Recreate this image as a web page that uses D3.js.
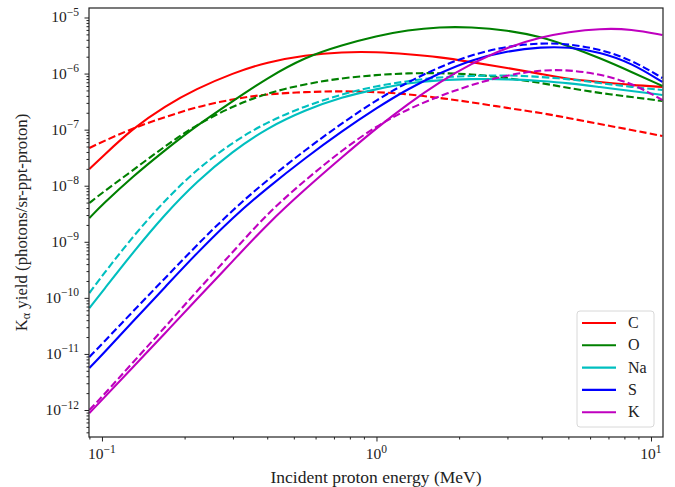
<!DOCTYPE html>
<html>
<head>
<meta charset="utf-8">
<script src="https://cdn.jsdelivr.net/npm/d3@7"></script>
<style>
  body { margin: 0; background: #fff; }
  text { font-family: "Liberation Serif", "DejaVu Serif", serif; fill: #222; }
</style>
</head>
<body>
<svg id="chart" width="675" height="487"></svg>
<script>
// Incident proton energies (MeV) at which the yields are tabulated
const energies = [0.09, 0.1, 0.13, 0.17, 0.22, 0.3, 0.4, 0.55, 0.75, 1, 1.3, 1.7, 2.2, 3, 4, 5, 6.5, 8.5, 11];

// Elements, line colours
const elements = ["C", "O", "Na", "S", "K"];
const colors = ["#ff0000", "#008000", "#00bfbf", "#0000ff", "#bf00bf"];

// K-alpha yields (photons/sr-ppt-proton), solid and dashed models
const cSolid  = [1.99e-8, 3.25e-8, 1.07e-7, 2.64e-7, 5.31e-7, 1.02e-6, 1.61e-6, 2.14e-6, 2.43e-6, 2.43e-6, 2.23e-6, 1.97e-6, 1.61e-6, 1.26e-6, 9.8e-7, 8.0e-7, 7.08e-7, 6.25e-7, 5.76e-7];
const cDashed = [4.71e-8, 6.03e-8, 1.07e-7, 1.68e-7, 2.53e-7, 3.52e-7, 4.32e-7, 4.69e-7, 4.89e-7, 4.69e-7, 4.32e-7, 3.67e-7, 3.11e-7, 2.43e-7, 1.98e-7, 1.61e-7, 1.26e-7, 9.86e-8, 7.70e-8];
const oSolid  = [2.65e-9, 4.53e-9, 1.49e-8, 4.34e-8, 1.16e-7, 3.24e-7, 8.34e-7, 1.97e-6, 3.23e-6, 4.68e-6, 5.98e-6, 6.77e-6, 6.77e-6, 5.98e-6, 4.49e-6, 3.10e-6, 1.90e-6, 1.07e-6, 6.0e-7];
const oDashed = [4.92e-9, 7.42e-9, 1.91e-8, 5.11e-8, 1.21e-7, 2.64e-7, 4.50e-7, 6.52e-7, 8.34e-7, 9.44e-7, 1.02e-6, 1.02e-6, 9.82e-7, 8.34e-7, 6.79e-7, 5.53e-7, 4.50e-7, 3.82e-7, 3.24e-7];
const naSolid  = [6.59e-11, 1.27e-10, 6.57e-10, 3.13e-9, 1.16e-8, 4.16e-8, 1.07e-7, 2.24e-7, 3.82e-7, 5.30e-7, 6.79e-7, 7.68e-7, 8.0e-7, 8.0e-7, 7.37e-7, 6.79e-7, 5.76e-7, 4.89e-7, 4.15e-7];
const naDashed = [1.22e-10, 2.45e-10, 1.27e-9, 5.56e-9, 1.91e-8, 6.03e-8, 1.37e-7, 2.64e-7, 4.32e-7, 6.0e-7, 7.37e-7, 8.69e-7, 9.05e-7, 9.44e-7, 8.69e-7, 8.0e-7, 6.79e-7, 5.76e-7, 5.09e-7];
const sSolid  = [5.61e-12, 9.57e-12, 3.87e-11, 1.56e-10, 6.05e-10, 2.75e-9, 9.12e-9, 3.12e-8, 9.46e-8, 2.43e-7, 5.31e-7, 1.02e-6, 1.75e-6, 2.53e-6, 2.98e-6, 2.98e-6, 2.43e-6, 1.54e-6, 7.08e-7];
const sDashed = [8.81e-12, 1.50e-11, 5.82e-11, 2.26e-10, 8.41e-10, 3.75e-9, 1.26e-8, 4.34e-8, 1.31e-7, 3.38e-7, 7.08e-7, 1.31e-6, 2.14e-6, 3.10e-6, 3.51e-6, 3.37e-6, 2.74e-6, 1.75e-6, 8.34e-7];
const kSolid  = [8.83e-13, 1.51e-12, 5.85e-12, 2.36e-11, 9.16e-11, 4.54e-10, 2.07e-9, 8.73e-9, 3.25e-8, 1.07e-7, 2.87e-7, 7.08e-7, 1.48e-6, 2.98e-6, 4.49e-6, 5.51e-6, 6.36e-6, 6.23e-6, 4.88e-6];
const kDashed = [1.00e-12, 1.71e-12, 7.18e-12, 3.02e-11, 1.27e-10, 6.57e-10, 3.20e-9, 1.26e-8, 4.34e-8, 1.16e-7, 2.33e-7, 3.98e-7, 6.25e-7, 9.44e-7, 1.16e-6, 1.16e-6, 9.82e-7, 6.79e-7, 3.38e-7];

// Tick labels (exponents of ten)
const xTickExponents = ["\u22121", "0", "1"];
const yTickExponents = ["\u221212", "\u221211", "\u221210", "\u22129", "\u22128", "\u22127", "\u22126", "\u22125"];

const solidSeries  = [cSolid, oSolid, naSolid, sSolid, kSolid];
const dashedSeries = [cDashed, oDashed, naDashed, sDashed, kDashed];

const width = 675, height = 487;
const margin = { top: 8, right: 12, bottom: 50, left: 89 };
const plotW = width - margin.left - margin.right;
const plotH = height - margin.top - margin.bottom;

const svg = d3.select("#chart");
const g = svg.append("g").attr("transform", `translate(${margin.left},${margin.top})`);

const x = d3.scaleLog().domain([0.0897, 11.06]).range([0, plotW]);
const y = d3.scaleLog().domain([3.30e-13, 1.477e-5]).range([plotH, 0]);

// clip the curves to the axes box
g.append("clipPath").attr("id", "plotClip")
  .append("rect").attr("width", plotW).attr("height", plotH);

const line = d3.line()
  .x(d => x(d[0]))
  .y(d => y(d[1]))
  .curve(d3.curveBasis);

const curves = g.append("g").attr("clip-path", "url(#plotClip)");
elements.forEach((el, i) => {
  const solid = energies.map((e, j) => [e, solidSeries[i][j]]);
  const dashed = energies.map((e, j) => [e, dashedSeries[i][j]]);
  curves.append("path").datum(dashed)
    .attr("d", line).attr("fill", "none")
    .attr("stroke", colors[i]).attr("stroke-width", 2.1)
    .attr("stroke-dasharray", "7.4,3.2");
  curves.append("path").datum(solid)
    .attr("d", line).attr("fill", "none")
    .attr("stroke", colors[i]).attr("stroke-width", 2.1);
});

// axes
const xMajor = [0.1, 1, 10];
const xMinor = [0.09];
[0.1, 1, 10].forEach(b => { for (let k = 2; k <= 9; k++) { const v = b * k; if (v <= x.domain()[1]) xMinor.push(v); } });
const yMajor = d3.range(-12, -4).map(p => Math.pow(10, p));
const yMinor = [];
d3.range(-13, -4).forEach(p => { for (let k = 2; k <= 9; k++) { const v = k * Math.pow(10, p); if (v >= y.domain()[0] && v <= y.domain()[1]) yMinor.push(v); } });

const axisColor = "#222";

const xAxisMinor = g.append("g").attr("transform", `translate(0,${plotH})`)
  .call(d3.axisBottom(x).tickValues(xMinor).tickSize(2.5).tickSizeOuter(0).tickFormat(""));
const xAxis = g.append("g").attr("transform", `translate(0,${plotH})`)
  .call(d3.axisBottom(x).tickValues(xMajor).tickSize(4.5).tickSizeOuter(0).tickFormat(""));
const yAxisMinor = g.append("g")
  .call(d3.axisLeft(y).tickValues(yMinor).tickSize(2.5).tickSizeOuter(0).tickFormat(""));
const yAxis = g.append("g")
  .call(d3.axisLeft(y).tickValues(yMajor).tickSize(4.5).tickSizeOuter(0).tickFormat(""));

[xAxisMinor, xAxis, yAxisMinor, yAxis].forEach(a => {
  a.select(".domain").remove();
  a.selectAll(".tick line").attr("stroke", axisColor).attr("stroke-width", 1);
});

// power-of-ten labels
function powLabel(sel, exp, anchor) {
  const t = sel.append("text").attr("text-anchor", anchor);
  t.append("tspan").attr("font-size", 15.5).text("10");
  t.append("tspan").attr("font-size", 11.5).attr("dy", -6.5).text(exp);
  return t;
}
xMajor.forEach((v, i) => {
  const grp = g.append("g").attr("transform", `translate(${x(v)},${plotH + 22})`);
  powLabel(grp, xTickExponents[i], "middle");
});
yMajor.forEach((v, i) => {
  const grp = g.append("g").attr("transform", `translate(-10,${y(v) + 5})`);
  powLabel(grp, yTickExponents[i], "end");
});

// frame
g.append("rect").attr("width", plotW).attr("height", plotH)
  .attr("fill", "none").attr("stroke", axisColor).attr("stroke-width", 1.2);

// axis titles
g.append("text")
  .attr("x", plotW / 2).attr("y", plotH + 46)
  .attr("text-anchor", "middle").attr("font-size", 17.5)
  .text("Incident proton energy (MeV)");

const yt = svg.append("text")
  .attr("transform", `translate(27,${margin.top + plotH / 2}) rotate(-90)`)
  .attr("text-anchor", "middle").attr("font-size", 16.8);
yt.append("tspan").text("K");
yt.append("tspan").attr("font-size", 12).attr("dy", 3).text("\u03b1");
yt.append("tspan").attr("dy", -3).text(" yield (photons/sr-ppt-proton)");

// legend
const lg = svg.append("g").attr("transform", "translate(577,311)");
lg.append("rect").attr("width", 77).attr("height", 116).attr("rx", 3)
  .attr("fill", "#fff").attr("fill-opacity", 0.8)
  .attr("stroke", "#d8d8d8").attr("stroke-width", 1);
elements.forEach((el, i) => {
  const yy = 12 + i * 22.3;
  lg.append("line").attr("x1", 5).attr("x2", 39).attr("y1", yy).attr("y2", yy)
    .attr("stroke", colors[i]).attr("stroke-width", 2.1);
  lg.append("text").attr("x", 51).attr("y", yy + 5).attr("font-size", 16).text(el);
});
</script>
</body>
</html>
